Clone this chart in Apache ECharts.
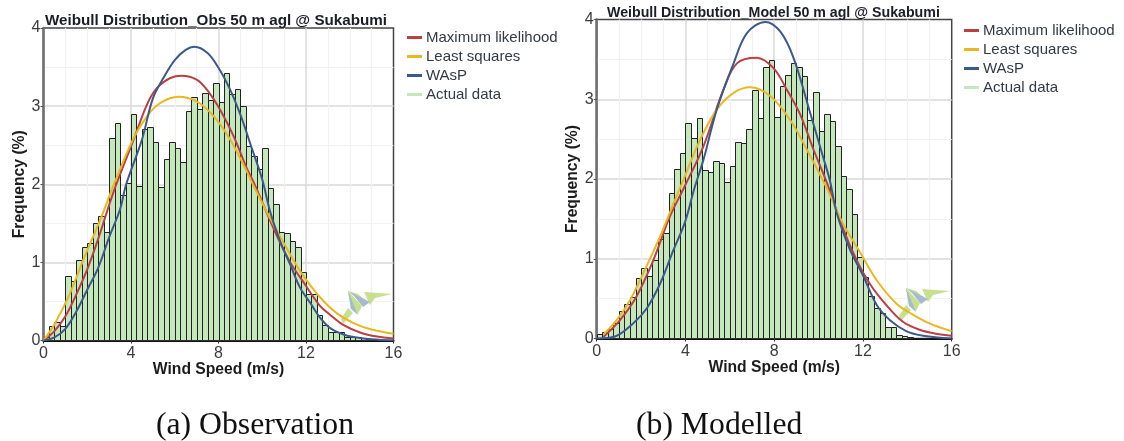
<!DOCTYPE html>
<html><head><meta charset="utf-8">
<style>html,body{margin:0;padding:0;background:#fff}#c{width:1124px;height:441px}</style>
<script src="https://cdn.jsdelivr.net/npm/echarts@6/dist/echarts.min.js"></script>
</head><body><div id="c"></div>
<script>
const binWidth = 0.25;
const obsBars = [.04,.18,.24,.18,.82,.76,1.03,1.2,1.25,1.5,1.59,1.39,2.59,2.79,1.86,2.01,2.9,1.98,2.71,2.73,2.54,1.97,2.32,2.54,2.46,2.29,2.94,3.12,2.96,3.17,3.08,3.29,3.05,3.42,3.15,3.22,3.0,2.49,2.36,2.2,2.47,1.95,1.75,1.39,1.37,1.27,1.2,.875,.6,.6,.33,.2,.11,.11,.11,.04,.05,.04,.03,.02,.01,.01,.005,.005];
const modBars = [.06,.08,.12,.19,.34,.43,.52,.76,.88,.78,.98,1.25,1.32,1.82,2.12,2.33,2.7,2.51,2.77,2.11,2.09,2.22,2.2,1.96,2.16,2.46,2.45,2.63,3.12,2.77,3.41,3.49,2.78,3.16,3.3,3.46,3.41,3.29,2.74,3.09,2.6,2.82,2.73,2.42,2.04,1.87,1.56,1.02,.77,.53,.38,.32,.14,.14,.05,.035,.025,.01,.01,.005,.005,.005,.005,.005];
const obsML = [[0,0],[.5,.12],[1,.31],[1.5,.59],[2,.91],[2.5,1.3],[3.2,1.9],[4.12,2.57],[4.73,3.02],[5.18,3.23],[5.8,3.36],[6.33,3.39],[7,3.34],[7.47,3.21],[8.08,2.95],[8.7,2.61],[9.3,2.2],[9.6,2.03],[10.67,1.34],[11.28,1],[11.9,.74],[12.65,.44],[13.1,.33],[13.7,.2],[14.5,.1],[15.25,.05],[16,.025]];
const obsLS = [[0,0],[.53,.22],[1.22,.61],[1.83,1.04],[2.6,1.55],[3.25,2.02],[4.12,2.59],[4.73,2.87],[5.34,3.04],[6.17,3.12],[7,3.06],[7.78,2.87],[8.54,2.57],[9.3,2.16],[9.6,1.98],[10.5,1.49],[11.28,1.1],[11.9,.82],[12.65,.55],[13.4,.35],[14.2,.22],[15,.14],[16,.085]];
const obsWA = [[0,0],[.5,.04],[1,.15],[1.5,.37],[2,.65],[2.5,.93],[3,1.32],[3.5,1.68],[3.78,2],[4.5,2.57],[5,3.1],[5.5,3.37],[6,3.59],[6.5,3.72],[6.9,3.76],[7.5,3.68],[8,3.49],[8.5,3.23],[9,2.89],[9.5,2.48],[10,2.06],[10.37,1.64],[10.82,1.27],[11.28,.97],[11.74,.67],[12.2,.48],[12.65,.29],[13.1,.16],[13.6,.09],[14.05,.05],[15,.015],[16,0]];
const modML = [[.3,.02],[1.05,.23],[1.8,.53],[2.55,.98],[3.3,1.53],[3.95,1.9],[4.81,2.41],[5.71,3.12],[6.32,3.45],[7.22,3.52],[7.97,3.39],[8.57,3.12],[9.17,2.81],[9.77,2.37],[10.38,1.95],[11.1,1.38],[11.7,.99],[12.3,.69],[13.05,.42],[13.8,.21],[14.55,.11],[15.3,.06],[16,.035]];
const modLS = [[.3,.05],[.9,.23],[1.5,.48],[2.1,.82],[2.86,1.28],[3.46,1.69],[3.85,1.95],[4.66,2.49],[5.41,2.87],[6.17,3.08],[6.92,3.15],[7.82,3.04],[8.72,2.74],[9.47,2.37],[10.38,1.88],[11.1,1.44],[11.85,1.09],[12.62,.73],[13.5,.44],[14.25,.3],[15,.19],[16,.09]];
const modWA = [[0,0],[.83,.025],[1.65,.19],[2.26,.38],[2.86,.69],[3.46,1.11],[3.98,1.46],[4.4,1.88],[4.81,2.24],[5.41,2.87],[6.17,3.45],[6.77,3.83],[7.6,3.97],[8.27,3.85],[8.87,3.52],[9.62,2.83],[10.2,2.28],[10.52,1.97],[10.82,1.57],[11.42,1.11],[12.02,.78],[12.62,.42],[13.22,.23],[13.97,.09],[14.72,.035],[16,0]];
const seriesNames = ['Maximum likelihood','Least squares','WAsP','Actual data'];
const xTicks = [0,4,8,12,16];
const yTicks = [0,1,2,3,4];
const titles = ['Weibull Distribution_Obs 50 m agl @ Sukabumi','Weibull Distribution_Model 50 m agl @ Sukabumi'];
const captions = ['(a) Observation','(b) Modelled'];

const RED='#BC3F44', YEL='#E9B820', BLU='#3A5A8C', GRN='#C5E7BC';
const grids = [{left:43.5,top:28,width:350,height:312.5},{left:596.7,top:19.5,width:355,height:319}];
function axes(i){
  const grid={show:true,showMinLine:false,showMaxLine:false,lineStyle:{color:'#d9d9d9',width:1.5}};
  const minor={show:true,lineStyle:{color:'#f1f1f1',width:1.2}};
  const nm={fontFamily:'Liberation Sans',fontWeight:'bold',fontSize:15.7,color:'#1c1c1c'};
  const lab={fontFamily:'Liberation Sans',fontSize:16,color:'#3c3c3c'};
  return {
    x:{type:'value',gridIndex:i,min:0,max:16,interval:4,name:'Wind Speed (m/s)',nameLocation:'middle',nameGap:21,nameMoveOverlap:false,nameTextStyle:nm,
      axisLine:{show:true,onZero:false,lineStyle:{color:'#111',width:2}},axisTick:{show:true,length:3,lineStyle:{color:'#333'}},
      axisLabel:Object.assign({margin:5,formatter:v=>xTicks.includes(v)?String(v):''},lab),
      minorTick:{show:false,splitNumber:4},splitLine:grid,minorSplitLine:minor},
    y:{type:'value',gridIndex:i,min:0,max:4,interval:1,name:'Frequency (%)',nameLocation:'middle',nameGap:16,nameMoveOverlap:false,nameTextStyle:nm,
      axisLine:{show:true,onZero:false,lineStyle:{color:'#707070',width:2.5}},axisTick:{show:true,length:3,lineStyle:{color:'#555'}},
      axisLabel:Object.assign({margin:3,formatter:v=>yTicks.includes(v)?String(v):''},lab),
      minorTick:{show:false,splitNumber:2},splitLine:grid,minorSplitLine:minor}
  };
}
function line(name,data,color,i){
  return {type:'line',name,xAxisIndex:i,yAxisIndex:i,data,smooth:.35,showSymbol:false,symbol:'none',z:5,lineStyle:{color,width:2},itemStyle:{color}};
}
function bars(data,i){
  return {type:'custom',name:seriesNames[3],xAxisIndex:i,yAxisIndex:i,z:3,clip:true,
    data:data.map((v,k)=>[k*binWidth,(k+1)*binWidth,v]),
    encode:{x:[0,1],y:2},
    itemStyle:{color:GRN},
    renderItem(params,api){
      const a=api.coord([api.value(0),0]), b=api.coord([api.value(1),api.value(2)]);
      const x0=Math.round(a[0])+.5, x1=Math.round(b[0])+.5, y1=Math.round(b[1])+.5;
      return {type:'rect',shape:{x:x0,y:y1,width:x1-x0,height:a[1]-y1},style:{fill:GRN,stroke:'#222',lineWidth:1}};
    }};
}
function legend(i,left,top){
  return {left,top,orient:'vertical',itemWidth:15,itemHeight:3,itemGap:4,
    textStyle:{fontFamily:'Liberation Sans',fontSize:15,color:'#333a45',padding:[0,0,0,-1]},
    itemStyle:{borderWidth:0},
    data:seriesNames.map(n=>({name:n,icon:'rect'}))};
}
function logo(x,y){
  const poly=(p,fill)=>({type:'polygon',silent:true,z:4,shape:{points:p.map(q=>[x+q[0],y+q[1]])},style:{fill}});
  const g='#C6E08E',b='#A3BAD0';
  return [
    poly([[16,1],[44,3],[27,7],[22,14]],g),
    poly([[0,0],[10,3],[22,13],[9,6]],g),
    poly([[0,17],[5,22],[-5,33],[-7,28]],g),
    poly([[0,0],[3,17],[10,23],[14,15]],g),
    poly([[0,0],[22,11],[15,16],[6,5]],b),
    poly([[0,0],[10,24],[3,18]],b)
  ];
}
const ax0=axes(0), ax1=axes(1);
const chart=echarts.init(document.getElementById('c'),null,{renderer:'canvas'});
chart.setOption({
  animation:false,backgroundColor:'#fff',
  grid:grids.map(g=>Object.assign({show:true,borderColor:'#444',borderWidth:1.5,backgroundColor:'#fff'},g)),
  xAxis:[ax0.x,ax1.x],yAxis:[ax0.y,ax1.y],
  title:[
    {text:titles[0],left:40,top:8,z:0,textStyle:{fontFamily:'Liberation Sans',fontWeight:'bold',fontSize:15.2,color:'#1c1c2a'}},
    {text:titles[1],left:602,top:1,z:0,textStyle:{fontFamily:'Liberation Sans',fontWeight:'bold',fontSize:14.2,color:'#1c1c2a'}},
    {text:captions[0],left:151,top:405,textStyle:{fontFamily:'Liberation Serif',fontWeight:'normal',fontSize:31.7,color:'#111'}},
    {text:captions[1],left:631,top:405,textStyle:{fontFamily:'Liberation Serif',fontWeight:'normal',fontSize:31.7,color:'#111'}}
  ],
  legend:[legend(0,402,25),legend(1,959,18)],
  graphic:logo(348,291).concat(logo(906,288)),
  series:[bars(obsBars,0),line(seriesNames[0],obsML,RED,0),line(seriesNames[1],obsLS,YEL,0),line(seriesNames[2],obsWA,BLU,0),
          bars(modBars,1),line(seriesNames[0],modML,RED,1),line(seriesNames[1],modLS,YEL,1),line(seriesNames[2],modWA,BLU,1)]
});
</script></body></html>
